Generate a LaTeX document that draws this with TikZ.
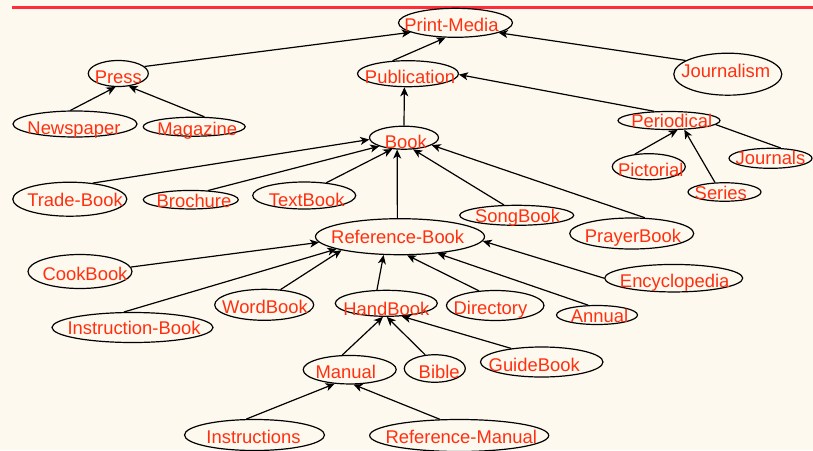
\documentclass[tikz,border=0pt]{standalone}
\usepackage{fontspec}
\setmainfont{Liberation Sans}
\usepackage{xcolor}
\usepackage{tikz}
\usetikzlibrary{shapes.geometric,arrows.meta}
\definecolor{paper}{RGB}{254,249,238}
\definecolor{rulered}{RGB}{255,45,60}
\definecolor{labelred}{RGB}{255,48,16}
% label text: shift right, lower baseline, text
\newcommand{\ctext}[3]{\makebox[0pt]{\kern#1pt\kern#1pt\raisebox{-#2pt}[0pt][0pt]{#3}}}

\begin{document}
\begin{tikzpicture}[x=1pt,y=-1pt]
			\tikzstyle{concept} = [ellipse, draw, line width=1.2pt, inner sep=0pt, text=labelred, font=\fontsize{18.4pt}{20pt}\selectfont]
			\tikzset{isa/.style = {line width=1.2pt, -{Stealth[length=9pt,width=8pt,inset=2.5pt]}}}
			\tikzset{link/.style = {line width=1.2pt}}
			
			\fill[paper] (0,0) rectangle (813,450);
			\useasboundingbox (0,0) rectangle (813,450);
			\draw[rulered, line width=3.5pt] (12,7.3) -- (813,7.3);
			
			\node[concept, minimum width=114pt, minimum height=29pt](printmedia) at (455.5,22.8) {\ctext{-4}{8.5}{Print-Media}};
			\node[concept, minimum width=60pt, minimum height=26pt](press) at (118.3,73.5) {\ctext{0}{10.1}{Press}};
			\node[concept, minimum width=101pt, minimum height=26pt](publication) at (408,73.7) {\ctext{2}{9.9}{Publication}};
			\node[concept, minimum width=108pt, minimum height=42pt](journalism) at (727.8,74.2) {\ctext{-2}{3.4}{Journalism}};
			\node[concept, minimum width=124pt, minimum height=26pt](newspaper) at (75,124) {\ctext{-1}{10.5}{Newspaper}};
			\node[concept, minimum width=102pt, minimum height=19pt](magazine) at (194.2,126.7) {\ctext{3}{8.5}{Magazine}};
			\node[concept, minimum width=69pt, minimum height=23pt](book) at (404,137.7) {\ctext{1.8}{11.1}{Book}};
			\node[concept, minimum width=102pt, minimum height=18pt](periodical) at (669,120.5) {\ctext{2.7}{6.9}{Periodical}};
			\node[concept, minimum width=73pt, minimum height=26pt](pictorial) at (648.8,166.7) {\ctext{2}{9.6}{Pictorial}};
			\node[concept, minimum width=83pt, minimum height=20pt](journals) at (770.5,158.3) {\ctext{0}{6.3}{Journals}};
			\node[concept, minimum width=73pt, minimum height=18.5pt](series) at (724.5,192) {\ctext{-3.7}{7.1}{Series}};
			
			\node[concept, minimum width=114pt, minimum height=34pt](tradebook) at (69.8,199.2) {\ctext{5.2}{7.1}{Trade-Book}};
			\node[concept, minimum width=95pt, minimum height=18.5pt](brochure) at (190.8,199.7) {\ctext{3.2}{7.6}{Brochure}};
			\node[concept, minimum width=103pt, minimum height=27pt](textbook) at (304.2,195.5) {\ctext{2.5}{11.1}{TextBook}};
			\node[concept, minimum width=114pt, minimum height=20pt](songbook) at (516.7,215.3) {\ctext{0.8}{7.6}{SongBook}};
			\node[concept, minimum width=124pt, minimum height=31pt](prayerbook) at (631.7,233.5) {\ctext{1.3}{8.5}{PrayerBook}};
			\node[concept, minimum width=169pt, minimum height=36pt](referencebook) at (400,236.7) {\ctext{-2.3}{6.4}{Reference-Book}};
			\node[concept, minimum width=138pt, minimum height=27.5pt](encyclopedia) at (673.7,278.2) {\ctext{1}{9.5}{Encyclopedia}};
			\node[concept, minimum width=104pt, minimum height=34pt](cookbook) at (80,271.5) {\ctext{5}{8.5}{CookBook}};
			\node[concept, minimum width=161pt, minimum height=30pt](instructionbook) at (132.5,327.5) {\ctext{1.5}{7.4}{Instruction-Book}};
			\node[concept, minimum width=99pt, minimum height=31pt](wordbook) at (264.2,304.8) {\ctext{0.8}{8.5}{WordBook}};
			\node[concept, minimum width=102pt, minimum height=26pt](handbook) at (386.3,303.3) {\ctext{0}{12}{HandBook}};
			\node[concept, minimum width=97.5pt, minimum height=30pt](directory) at (495.2,305.5) {\ctext{-4.7}{9.4}{Directory}};
			\node[concept, minimum width=81pt, minimum height=19pt](annual) at (597,315) {\ctext{2.5}{7.3}{Annual}};
			\node[concept, minimum width=93pt, minimum height=28.5pt](manual) at (349.7,369.7) {\ctext{-4}{8.5}{Manual}};
			\node[concept, minimum width=61pt, minimum height=27.5pt](bible) at (434.8,368.5) {\ctext{4.4}{10.1}{Bible}};
			\node[concept, minimum width=122.5pt, minimum height=30pt](guidebook) at (541.7,362) {\ctext{-7.5}{9.6}{GuideBook}};
			\node[concept, minimum width=140pt, minimum height=31pt](instructions) at (254.5,435) {\ctext{-1}{8.5}{Instructions}};
			\node[concept, minimum width=179pt, minimum height=32pt](referencemanual) at (459.2,435.5) {\ctext{2}{7.8}{Reference-Manual}};
			
			\draw[isa](press.15.9) to (printmedia.-168.8);
			\draw[isa](publication.140.8) to (printmedia.-124.1);
			\draw[isa](journalism.162.9) to (printmedia.-13.2);
			\draw[isa](newspaper.109.7) to (press.-102.8);
			\draw[isa](magazine.44.7) to (press.-51.1);
			\draw[isa](book.90) to (publication.-105.2);
			\draw[isa](periodical.148.7) to (publication.-1.4);
			\draw[isa](pictorial.138.7) to (periodical.-48.2);
			\draw[isa](series.135.5) to (periodical.-31.4);
			\draw[link](journals.45.9) to (periodical.-5.2);
			
			\draw[isa](tradebook.35.8) to (book.-177.9);
			\draw[isa](brochure.28.6) to (book.-161.7);
			\draw[isa](textbook.30) to (book.-136.2);
			\draw[isa](referencebook.98.3) to (book.-120);
			\draw[isa](songbook.141.8) to (book.-52.4);
			\draw[isa](prayerbook.50.6) to (book.-15.7);
			
			\draw[isa](cookbook.5.3) to (referencebook.-176.6);
			\draw[isa](instructionbook.119.1) to (referencebook.-169.9);
			\draw[isa](wordbook.43.5) to (referencebook.-167.8);
			\draw[isa](handbook.125.8) to (referencebook.-132.8);
			\draw[isa](directory.138) to (referencebook.-69);
			\draw[isa](annual.132) to (referencebook.-24.1);
			\draw[isa](encyclopedia.180) to (referencebook.-3.1);
			
			\draw[isa](manual.117.5) to (handbook.-104.8);
			\draw[isa](bible.125.4) to (handbook.-88.8);
			\draw[isa](guidebook.156) to (handbook.-40.5);
			\draw[isa](instructions.117) to (manual.-137);
			\draw[isa](referencemanual.140.5) to (manual.-76.8);
			
			\end{tikzpicture}
\end{document}
